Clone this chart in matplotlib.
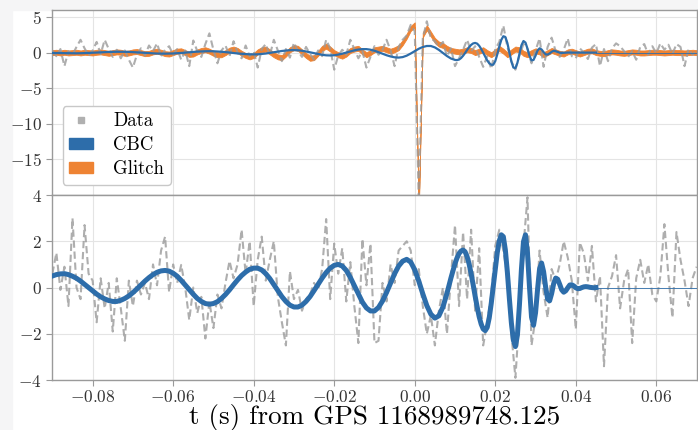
import numpy as np
import matplotlib
matplotlib.use("Agg")
import matplotlib.pyplot as plt
from matplotlib.lines import Line2D
from matplotlib.patches import Patch, Rectangle

plt.rcParams['font.family'] = 'serif'
plt.rcParams['font.serif'] = ['cmr10']
plt.rcParams['mathtext.fontset'] = 'cm'
plt.rcParams['axes.formatter.use_mathtext'] = True

# time grids (ms from GPS 1168989748.125)
t_ms = np.arange(-90, 71)
t_cbc_ms = np.concatenate([np.arange(-90, 10), np.arange(10, 45.5, 0.5)])

# whitened data, detector with glitch (top)
data_top = [0.3, -0.5, 0.5, -1.9, 0.2, -0.3, 0.8, 1.8, 0.6, -0.4,
            0.3, 1.5, -0.2, 1.8, 0.5, -0.6, 0.4, -0.8, 0.3, -1.0,
            -2.1, -0.3, 0.6, -0.4, 1.0, 0.2, 1.3, -0.5, 0.4, 0.9,
            -0.3, 0.5, -1.0, 0.3, -1.9, 1.7, 0.2, -0.6, 1.2, 2.7,
            0.4, -1.5, 0.3, 1.0, -0.5, 1.6, 0.0, -0.8, 1.0, -0.5,
            0.2, -2.1, 0.5, 1.2, -0.4, 1.8, 0.3, -1.2, 0.5, -0.7,
            1.4, 0.2, -0.6, 0.8, -0.2, -1.0, 0.3, -0.5, 1.8, 0.6,
            -2.4, -0.4, 0.4, -0.3, 1.8, 0.5, -0.8, 0.2, -2.1, -0.6,
            0.9, -0.3, 0.4, 1.8, 0.3, -1.9, 0.8, 1.8, 2.4, 3.9,
            3.0, -21.0, 2.0, 4.4, 2.0, 1.6, 0.8, 1.5, -0.5, 0.6,
            -1.9, -0.8, 0.4, 1.8, 0.2, 0.9, -0.6, -2.0, -0.5, -2.3,
            0.5, 1.5, 3.8, 0.8, -1.2, -2.4, -0.4, 1.2, 0.5, -1.5,
            0.3, 2.0, -2.0, 0.8, 2.1, 0.2, -0.6, 0.4, 2.0, -0.5,
            -0.8, 0.6, 0.0, -0.9, 0.7, 1.2, -1.9, 0.5, -1.2, 0.6,
            1.3, 0.9, 0.2, -0.6, 0.2, -1.0, 0.8, 1.2, -0.3, 0.9,
            -0.1, 1.3, 0.4, 1.1, -0.2, 1.2, 0.8, -1.9, 0.5, -0.3,
            0.4]

glitch_top = [0.0, 0.05, -0.05, 0.05, -0.05, 0.0, 0.05, -0.05, 0.05, 0.0,
              -0.05, 0.05, 0.1, 0.0, -0.1, 0.0, 0.1, 0.05, -0.1, -0.05,
              0.1, 0.15, 0.0, -0.15, -0.1, 0.1, 0.2, 0.05, -0.15, -0.2,
              0.0, 0.2, 0.25, 0.0, -0.25, -0.2, 0.1, 0.3, 0.4, 0.2,
              -0.1, -0.3, -0.3, 0.0, 0.35, 0.5, 0.3, -0.1, -0.4, -0.6,
              -0.4, 0.1, 0.4, 0.5, 0.1, -0.3, -0.6, -0.7, -0.2, 0.4,
              0.7, 0.6, 0.1, -0.4, -0.8, -0.7, -0.1, 0.6, 0.9, 0.5,
              0.0, -0.3, -0.5, -0.2, 0.3, 0.5, 0.6, 0.1, -0.3, 0.0,
              0.4, 0.5, 0.6, 0.4, 0.2, 0.4, 0.7, 1.4, 2.3, 3.4,
              3.9, -22.0, 2.5, 3.5, 2.6, 1.7, 1.2, 1.0, 0.6, 0.3,
              0.2, 0.1, 0.2, 0.4, 0.3, 0.0, 0.2, 0.4, 0.0, -0.3,
              0.1, 0.6, 0.2, -0.3, 0.1, 0.5, 0.4, -0.1, -0.3, 0.0,
              0.25, 0.1, -0.3, 0.0, 0.3, 0.1, -0.1, -0.2, 0.1, 0.2,
              0.0, -0.2, 0.0, 0.2, 0.25, 0.0, -0.1, -0.15, 0.0, 0.1,
              0.05, -0.05, -0.1, 0.0, 0.1, 0.05, -0.05, -0.05, 0.0, 0.05,
              0.05, 0.0, -0.05, 0.0, 0.05, 0.0, 0.0, -0.05, 0.0, 0.05,
              0.0]

cbc_top = [-0.05, -0.06, -0.08, -0.09, -0.10, -0.10, -0.10, -0.09, -0.07, -0.05,
           -0.02, 0.01, 0.04, 0.07, 0.09, 0.11, 0.12, 0.12, 0.11, 0.10,
           0.07, 0.04, 0.00, -0.03, -0.07, -0.10, -0.13, -0.14, -0.15, -0.14,
           -0.12, -0.09, -0.05, 0.00, 0.05, 0.10, 0.14, 0.17, 0.19, 0.20,
           0.19, 0.16, 0.12, 0.07, 0.01, -0.06, -0.12, -0.17, -0.21, -0.24,
           -0.25, -0.24, -0.19, -0.13, -0.04, 0.05, 0.14, 0.23, 0.29, 0.34,
           0.35, 0.33, 0.26, 0.16, 0.04, -0.09, -0.21, -0.31, -0.38, -0.40,
           -0.37, -0.28, -0.15, 0.01, 0.17, 0.32, 0.43, 0.49, 0.49, 0.41,
           0.26, 0.06, -0.16, -0.37, -0.54, -0.66, -0.70, -0.63, -0.43, -0.13,
           0.21, 0.54, 0.79, 0.93, 0.93, 0.73, 0.38, -0.05, -0.48, -0.83,
           -1.03, -1.05, -0.98, -0.77, -0.45, -0.06, 0.37, 0.76, 1.08, 1.29,
           1.36, 1.26, 0.96, 0.52, -0.02, -0.59, -1.10, -1.49, -1.71, -1.70,
           -1.19, -0.25, 0.85, 1.79, 2.30, 2.20, 1.36, 0.05, -1.26, -2.10,
           -2.18, -1.43, -0.17, 1.03, 1.63, 1.41, 0.56, -0.45, -1.09, -1.03,
           -0.43, 0.29, 0.60, 0.44, 0.07, -0.24, -0.28, -0.12, 0.11, 0.25,
           0.20, 0.10, -0.01, -0.05, -0.03, 0.00, 0.01, 0.0, 0.0, 0.0,
           0.0, 0.0, 0.0, 0.0, 0.0, 0.0, 0.0, 0.0, 0.0, 0.0, 0.0]

# whitened data, second detector (bottom)
data_bot = [0.6, 1.5, -0.1, 0.9, -0.8, 3.0, 0.0, -0.5, 2.7, 0.6,
            0.3, -1.5, 0.4, -0.9, 0.2, -1.9, 0.4, -0.9, -2.3, 0.3,
            -0.8, 0.3, -0.3, 0.2, -0.5, 1.0, 0.1, 1.6, 2.2, -0.2,
            1.0, 0.2, 0.98, 0.0, -1.4, 0.0, -1.1, -0.4, -2.2, -0.6,
            -1.75, -0.3, -0.9, 0.2, 1.15, 0.4, 1.0, 2.5, 0.6, 2.0,
            -0.8, 1.2, 2.2, 0.3, 1.2, 2.0, -0.4, -1.5, -2.5, 0.7,
            -0.5, -0.1, -1.0, -0.5, -0.3, 0.2, -0.1, 0.8, 2.96, -0.5,
            1.9, 0.6, 1.7, -0.6, 1.1, -0.8, -2.4, 2.1, 0.1, 1.9,
            -2.4, -2.3, 0.2, -0.6, 1.0, 0.2, 1.6, 1.8, 2.0, 1.6,
            0.1, 0.8, -0.8, -2.0, -1.2, -2.5, -1.0, 0.0, -2.0, 0.5,
            2.7, -0.8, 2.4, -0.5, 2.5, -1.0, 1.7, -2.5, -1.5, -0.3,
            1.8, 2.5, 1.6, 0.5, -2.0, -3.9, -1.2, 1.8, 3.9, -2.5,
            -1.3, 1.6, -0.2, -1.3, 0.8, 0.3, 1.0, 2.0, 1.3, 0.3,
            -1.8, 1.95, 1.47, 0.3, 1.8, -0.6, 0.5, -3.4, 0.0, 0.5,
            1.4, -0.9, 0.3, 0.8, -2.4, 0.4, 1.2, 0.2, 1.0, -0.3,
            -0.6, 0.5, 2.74, 0.5, -1.3, 2.4, 1.2, 0.3, -0.8, 0.4,
            0.9]

cbc_bot = [0.50, 0.56, 0.59, 0.60, 0.56, 0.49, 0.40, 0.28, 0.14, 0.00,
           -0.14, -0.28, -0.40, -0.49, -0.56, -0.60, -0.60, -0.55, -0.47, -0.36,
           -0.22, -0.06, 0.11, 0.28, 0.43, 0.56, 0.66, 0.72, 0.74, 0.71,
           0.62, 0.49, 0.31, 0.11, -0.09, -0.29, -0.47, -0.60, -0.69, -0.72,
           -0.69, -0.61, -0.47, -0.30, -0.10, 0.12, 0.33, 0.52, 0.67, 0.79,
           0.84, 0.84, 0.76, 0.60, 0.39, 0.13, -0.13, -0.39, -0.60, -0.76,
           -0.84, -0.84, -0.76, -0.60, -0.39, -0.13, 0.14, 0.41, 0.65, 0.84,
           0.96, 1.00, 0.93, 0.74, 0.44, 0.08, -0.29, -0.63, -0.88, -1.01,
           -1.01, -0.86, -0.58, -0.21, 0.20, 0.60, 0.93, 1.14, 1.22, 1.10,
           0.77, 0.28, -0.27, -0.78, -1.15, -1.32, -1.22, -0.84, -0.25, 0.42,
           1.04, 1.28, 1.47, 1.58, 1.62, 1.55, 1.34, 1.02, 0.60, 0.13,
           -0.37, -0.84, -1.26, -1.58, -1.79, -1.86, -1.72, -1.31, -0.68, 0.06,
           0.83, 1.52, 2.02, 2.28, 2.20, 1.63, 0.67, -0.47, -1.53, -2.28,
           -2.55, -2.05, -0.75, 0.80, 1.98, 2.28, 1.49, 0.02, -1.27, -1.63,
           -1.09, -0.08, 0.81, 1.06, 0.69, 0.03, -0.50, -0.57, -0.26, 0.17,
           0.41, 0.36, 0.14, -0.10, -0.20, -0.14, -0.01, 0.11, 0.12, 0.07,
           -0.01, -0.05, -0.04, 0.00, 0.03, 0.04, 0.03, 0.01, 0.00, -0.01,
           0.00]

t = t_ms / 1000.0
tc = t_cbc_ms / 1000.0
g = np.array(glitch_top)

blue = '#2D6DAA'
orange = '#EE8333'
gray = '#9a9a9a'

fig = plt.figure(figsize=(6.98, 4.30), dpi=100)
gs = fig.add_gridspec(2, 1, hspace=0, left=0.075, right=0.998, top=0.977, bottom=0.116)
ax1 = fig.add_subplot(gs[0])
ax2 = fig.add_subplot(gs[1], sharex=ax1)

# top panel
ax1.fill_between(t, g - 0.35, g + 0.35, color=orange, lw=0.6, zorder=2)
ax1.plot(t, data_top, color=gray, ls='--', dashes=(3.5, 1.8), lw=1.5, alpha=0.8, zorder=3)
ax1.plot(tc, cbc_top, color=blue, lw=1.6, zorder=4)
ax1.plot([0.045, 0.07], [0, 0], color=blue, lw=0.6, zorder=4)

# bottom panel
ax2.plot(t, data_bot, color=gray, ls='--', dashes=(3.5, 1.8), lw=1.5, alpha=0.8, zorder=2)
ax2.plot(tc, cbc_bot, color=blue, lw=3.6, zorder=3)
ax2.plot([0.045, 0.07], [0, 0], color=blue, lw=0.6, zorder=3)

ax1.set_ylim(-20, 6)
ax2.set_ylim(-4, 4)
ax1.set_xlim(-0.09, 0.07)
ax1.set_yticks([-15, -10, -5, 0, 5])
ax2.set_yticks([-4, -2, 0, 2, 4])
ax2.set_xticks([-0.08, -0.06, -0.04, -0.02, 0.0, 0.02, 0.04, 0.06])

for ax in (ax1, ax2):
    ax.set_axisbelow(True)
    ax.grid(True, color='#e4e4e4', lw=0.8)
    for sp in ax.spines.values():
        sp.set_color('#9a9a9a')
        sp.set_linewidth(1.0)
    ax.tick_params(labelsize=12.5, colors='#333333', length=4, width=0.8)
    ax.tick_params(color='#9a9a9a')
ax1.tick_params(axis='x', labelbottom=False, length=0)
ax2.tick_params(axis='x', pad=2.5)

ax2.set_xlabel('t (s) from GPS 1168989748.125', fontsize=19.5, labelpad=-1)

handles = [Line2D([], [], marker='s', ls='none', color='#b0b0b0', markersize=5),
           Patch(facecolor=blue, edgecolor=blue),
           Patch(facecolor=orange, edgecolor=orange)]
leg = ax1.legend(handles, ['Data', 'CBC', 'Glitch'], loc='lower left', fontsize=13.5,
                 handlelength=1.25, handleheight=0.55, frameon=True, fancybox=True,
                 edgecolor='#c8c8c8', framealpha=1.0, borderpad=0.35, labelspacing=0.32,
                 handletextpad=1.1, borderaxespad=0.55)
leg.get_frame().set_linewidth(1.0)

# light page margins around the figure
fig.patches.append(Rectangle((0, 0), 12 / 698, 1, transform=fig.transFigure,
                             color='#f5f5f6', zorder=-10))
fig.patches.append(Rectangle((0, 1 - 10 / 430), 1, 10 / 430, transform=fig.transFigure,
                             color='#f5f5f6', zorder=-10))

fig.savefig('out.png', dpi=100)
